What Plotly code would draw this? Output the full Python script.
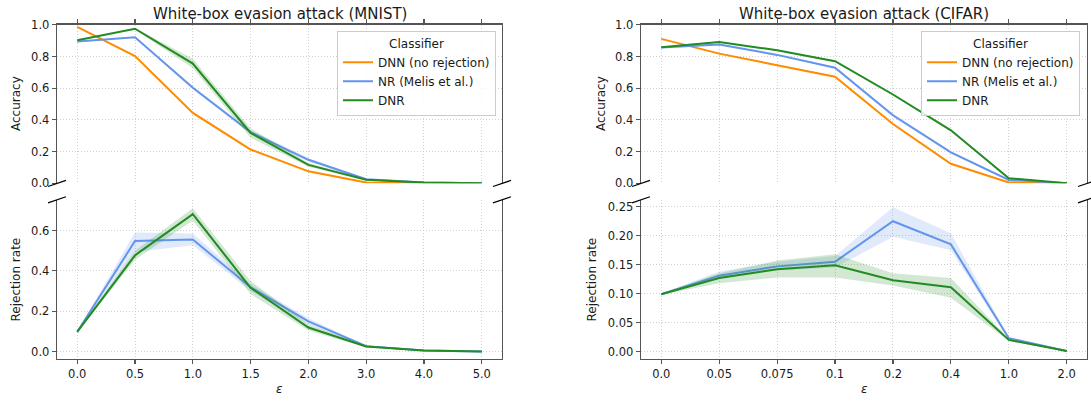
import plotly.graph_objects as go

# ---------------- data ----------------
mnist_eps = ["0.0", "0.5", "1.0", "1.5", "2.0", "3.0", "4.0", "5.0"]
cifar_eps = ["0.0", "0.05", "0.075", "0.1", "0.2", "0.4", "1.0", "2.0"]

# MNIST accuracy (mean, lower, upper)
mnist_acc_dnn = [0.987, 0.803, 0.444, 0.213, 0.075, 0.005, 0.002, 0.0]
mnist_acc_dnn_lo = [0.984, 0.798, 0.436, 0.205, 0.070, 0.003, 0.001, 0.0]
mnist_acc_dnn_hi = [0.990, 0.808, 0.452, 0.221, 0.080, 0.007, 0.003, 0.0]
mnist_acc_nr = [0.894, 0.921, 0.603, 0.322, 0.148, 0.025, 0.005, 0.0]
mnist_acc_nr_lo = [0.890, 0.917, 0.593, 0.310, 0.136, 0.021, 0.003, 0.0]
mnist_acc_nr_hi = [0.898, 0.925, 0.613, 0.334, 0.160, 0.029, 0.007, 0.0]
mnist_acc_dnr = [0.903, 0.975, 0.755, 0.317, 0.116, 0.022, 0.005, 0.0]
mnist_acc_dnr_lo = [0.899, 0.971, 0.725, 0.287, 0.104, 0.017, 0.003, 0.0]
mnist_acc_dnr_hi = [0.907, 0.979, 0.785, 0.347, 0.128, 0.027, 0.007, 0.0]

# MNIST rejection rate
mnist_rej_nr = [0.098, 0.548, 0.555, 0.319, 0.150, 0.027, 0.005, 0.001]
mnist_rej_nr_lo = [0.096, 0.494, 0.527, 0.300, 0.135, 0.024, 0.004, 0.0]
mnist_rej_nr_hi = [0.100, 0.590, 0.585, 0.335, 0.165, 0.030, 0.007, 0.002]
mnist_rej_dnr = [0.098, 0.477, 0.681, 0.316, 0.119, 0.025, 0.006, 0.0]
mnist_rej_dnr_lo = [0.096, 0.455, 0.650, 0.285, 0.105, 0.020, 0.003, 0.0]
mnist_rej_dnr_hi = [0.100, 0.500, 0.710, 0.350, 0.135, 0.030, 0.009, 0.002]

# CIFAR accuracy
cifar_acc_dnn = [0.911, 0.818, 0.745, 0.672, 0.374, 0.123, 0.005, 0.0]
cifar_acc_dnn_lo = [0.908, 0.814, 0.741, 0.667, 0.368, 0.118, 0.003, 0.0]
cifar_acc_dnn_hi = [0.914, 0.822, 0.749, 0.677, 0.380, 0.128, 0.007, 0.0]
cifar_acc_nr = [0.856, 0.875, 0.810, 0.729, 0.429, 0.195, 0.021, 0.0]
cifar_acc_nr_lo = [0.852, 0.871, 0.805, 0.723, 0.418, 0.187, 0.018, 0.0]
cifar_acc_nr_hi = [0.860, 0.879, 0.815, 0.735, 0.440, 0.203, 0.024, 0.0]
cifar_acc_dnr = [0.858, 0.892, 0.839, 0.770, 0.560, 0.334, 0.032, 0.0]
cifar_acc_dnr_lo = [0.855, 0.888, 0.835, 0.765, 0.554, 0.328, 0.029, 0.0]
cifar_acc_dnr_hi = [0.861, 0.896, 0.843, 0.775, 0.566, 0.340, 0.035, 0.0]

# CIFAR rejection rate
cifar_rej_nr = [0.099, 0.131, 0.147, 0.155, 0.225, 0.185, 0.023, 0.001]
cifar_rej_nr_lo = [0.098, 0.125, 0.140, 0.145, 0.198, 0.175, 0.020, 0.000]
cifar_rej_nr_hi = [0.100, 0.138, 0.155, 0.165, 0.249, 0.204, 0.025, 0.002]
cifar_rej_dnr = [0.099, 0.127, 0.142, 0.149, 0.123, 0.111, 0.020, 0.001]
cifar_rej_dnr_lo = [0.098, 0.118, 0.128, 0.128, 0.114, 0.093, 0.018, 0.000]
cifar_rej_dnr_hi = [0.100, 0.135, 0.157, 0.168, 0.135, 0.127, 0.022, 0.002]

names = ["DNN (no rejection)", "NR (Melis et al.)", "DNR"]
colors = ["#FF8C00", "#6495ED", "#228B22"]
fills = ["rgba(255,140,0,0.2)", "rgba(100,149,237,0.2)", "rgba(34,139,34,0.2)"]

# ---------------- layout geometry ----------------
# The photographed page shows the figure at y' = 8 + 0.96*y, so target
# positions (in picture pixels) are mapped back to figure pixels.
W, H = 1091, 401
OFF, SC = 8.0, 0.96
FONT = "DejaVu Sans"
TXT = "#1a1a1a"
SPINE = "#555555"
GRID = "#c4c4c4"


def px(x):
    return x / W


def py(y):
    return 1 - ((y - OFF) / SC) / H


LX = [px(57), px(502)]
RX = [px(641), px(1087)]
TOPY = [py(183.3), py(25.7)]
BOTY = [py(358), py(200)]

fig = go.Figure()
xs = list(range(8))


def add_series(mean, lo, hi, idx, xa, ya, legend=None):
    fig.add_trace(go.Scatter(
        x=xs + xs[::-1], y=hi + lo[::-1], mode="lines", fill="toself", fillcolor=fills[idx],
        line=dict(width=0), hoverinfo="skip", showlegend=False, xaxis=xa, yaxis=ya))
    fig.add_trace(go.Scatter(
        x=xs, y=mean, mode="lines", line=dict(color=colors[idx], width=2),
        name=names[idx], showlegend=legend is not None, legend=legend or "legend",
        xaxis=xa, yaxis=ya))


add_series(mnist_acc_dnn, mnist_acc_dnn_lo, mnist_acc_dnn_hi, 0, "x", "y", "legend")
add_series(mnist_acc_nr, mnist_acc_nr_lo, mnist_acc_nr_hi, 1, "x", "y", "legend")
add_series(mnist_acc_dnr, mnist_acc_dnr_lo, mnist_acc_dnr_hi, 2, "x", "y", "legend")
add_series(mnist_rej_nr, mnist_rej_nr_lo, mnist_rej_nr_hi, 1, "x2", "y2")
add_series(mnist_rej_dnr, mnist_rej_dnr_lo, mnist_rej_dnr_hi, 2, "x2", "y2")
add_series(cifar_acc_dnn, cifar_acc_dnn_lo, cifar_acc_dnn_hi, 0, "x3", "y3", "legend2")
add_series(cifar_acc_nr, cifar_acc_nr_lo, cifar_acc_nr_hi, 1, "x3", "y3", "legend2")
add_series(cifar_acc_dnr, cifar_acc_dnr_lo, cifar_acc_dnr_hi, 2, "x3", "y3", "legend2")
add_series(cifar_rej_nr, cifar_rej_nr_lo, cifar_rej_nr_hi, 1, "x4", "y4")
add_series(cifar_rej_dnr, cifar_rej_dnr_lo, cifar_rej_dnr_hi, 2, "x4", "y4")

tickfont = dict(family=FONT, size=11.5, color=TXT)
common_x = dict(range=[-0.35, 7.35], tickmode="array", tickvals=xs, showgrid=True,
                gridcolor=GRID, griddash="1px,2px", gridwidth=0.8, zeroline=False,
                showline=True, linecolor=SPINE, linewidth=1.3, ticks="outside",
                ticklen=4, tickcolor=SPINE, tickwidth=1.2, tickfont=tickfont)
common_y = dict(showgrid=True, gridcolor=GRID, griddash="1px,2px", gridwidth=0.8,
                zeroline=False, showline=True, mirror=True, linecolor=SPINE,
                linewidth=1.3, ticks="outside", ticklen=4, tickcolor=SPINE,
                tickwidth=1.2, tickfont=tickfont)

legend_common = dict(xanchor="right", yanchor="top",
                     bgcolor="rgba(255,255,255,0.85)", bordercolor="#cccccc", borderwidth=1,
                     font=dict(family=FONT, size=12, color=TXT), tracegroupgap=0,
                     title=dict(text="Classifier", side="top center",
                                font=dict(family=FONT, size=12, color=TXT)))

fig.update_layout(
    width=W, height=H, margin=dict(l=0, r=0, t=0, b=0),
    paper_bgcolor="white", plot_bgcolor="white",
    font=dict(family=FONT, color=TXT),
    xaxis=dict(domain=LX, anchor="y", side="top", showticklabels=False, **common_x),
    yaxis=dict(domain=TOPY, anchor="x", range=[0, 1], tickvals=[0, 0.2, 0.4, 0.6, 0.8, 1.0],
               tickformat=".1f", **common_y),
    xaxis2=dict(domain=LX, anchor="y2", ticktext=mnist_eps, **common_x),
    yaxis2=dict(domain=BOTY, anchor="x2", range=[-0.036, 0.751],
                tickvals=[0, 0.2, 0.4, 0.6], tickformat=".1f", **common_y),
    xaxis3=dict(domain=RX, anchor="y3", side="top", showticklabels=False, **common_x),
    yaxis3=dict(domain=TOPY, anchor="x3", range=[0, 1], tickvals=[0, 0.2, 0.4, 0.6, 0.8, 1.0],
                tickformat=".1f", **common_y),
    xaxis4=dict(domain=RX, anchor="y4", ticktext=cifar_eps, **common_x),
    yaxis4=dict(domain=BOTY, anchor="x4", range=[-0.0127, 0.2616],
                tickvals=[0, 0.05, 0.10, 0.15, 0.20, 0.25], tickformat=".2f", **common_y),
    legend=dict(x=px(496), y=py(32), **legend_common),
    legend2=dict(x=px(1080), y=py(32), **legend_common),
)

# titles and axis labels
ann = []
for xd, title in [(LX, "White-box evasion attack (MNIST)"), (RX, "White-box evasion attack (CIFAR)")]:
    ann.append(dict(text=title, x=(xd[0] + xd[1]) / 2, y=py(14.5), xref="paper", yref="paper",
                    showarrow=False, font=dict(family=FONT, size=15, color=TXT),
                    xanchor="center", yanchor="middle"))
    ann.append(dict(text="<i>ε</i>", x=(xd[0] + xd[1]) / 2, y=py(388), xref="paper", yref="paper",
                    showarrow=False, font=dict(family=FONT, size=12, color=TXT),
                    xanchor="center", yanchor="middle"))
for xc, yd, t in [(16, TOPY, "Accuracy"), (16, BOTY, "Rejection rate"),
                  (601, TOPY, "Accuracy"), (592, BOTY, "Rejection rate")]:
    ann.append(dict(text=t, x=px(xc), y=(yd[0] + yd[1]) / 2, xref="paper", yref="paper",
                    showarrow=False, textangle=-90, font=dict(family=FONT, size=12, color=TXT),
                    xanchor="center", yanchor="middle"))
fig.update_layout(annotations=ann)

# axis-break diagonal marks
shapes = []
for sx in [57, 502, 641, 1087]:
    for sy in [183.5, 199.8]:
        shapes.append(dict(type="line", xref="paper", yref="paper",
                           x0=px(sx - 9), y0=py(sy + 3), x1=px(sx + 9), y1=py(sy - 3),
                           line=dict(color="black", width=1.2)))
fig.update_layout(shapes=shapes)

css = "html,body{margin:0!important;padding:0!important;overflow:hidden!important;}"
fig.write_html(
    "out.html",
    config={"displayModeBar": False, "staticPlot": True},
    post_script=("var s=document.createElement('style');s.innerHTML='" + css + "';"
                 "document.head.appendChild(s);"),
)
